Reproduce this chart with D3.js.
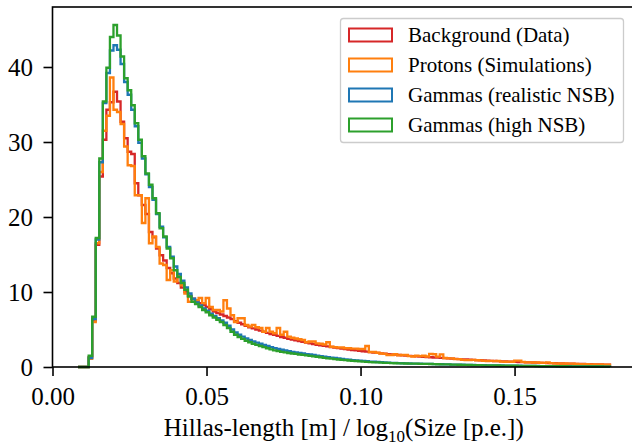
<!DOCTYPE html>
<html>
<head>
<meta charset="utf-8">
<script src="https://cdn.jsdelivr.net/npm/d3@7"></script>
<style>
  body { margin: 0; background: #fff; }
  svg { display: block; font-family: 'Liberation Serif', 'Times New Roman', serif; }
</style>
</head>
<body>
<svg></svg>
<script>
// histogram binning (150 equal bins)
const binStart = 0.00828;
const binEnd = 0.18098;
const binCount = 150;

const background = [
  0, 0, 0, 1.3, 6.2, 16.3, 25.4, 30.3, 34.3, 35.3,
  36.7, 35.4, 32.7, 30.5, 28.7, 28.4, 24.5, 22.9, 21.6, 20.4,
  18.0, 17.3, 15.8, 14.9, 14.2, 13.2, 12.5, 11.8, 11.2, 10.6,
  10.0, 9.5, 9.1, 8.8, 8.5, 8.3, 8.0, 7.7, 7.4, 7.2,
  7.0, 6.8, 6.6, 6.4, 6.1, 5.9, 5.7, 5.5, 5.3, 5.15,
  5.0, 4.85, 4.7, 4.55, 4.4, 4.3, 4.15, 4.0, 3.9, 3.75,
  3.65, 3.55, 3.45, 3.35, 3.25, 3.15, 3.05, 2.97, 2.9, 2.82,
  2.75, 2.67, 2.6, 2.53, 2.46, 2.4, 2.33, 2.27, 2.21, 2.15,
  2.1, 2.04, 1.98, 1.93, 1.88, 1.83, 1.78, 1.73, 1.68, 1.64,
  1.6, 1.56, 1.52, 1.48, 1.45, 1.42, 1.39, 1.36, 1.33, 1.3,
  1.27, 1.24, 1.21, 1.18, 1.15, 1.12, 1.09, 1.06, 1.03, 1.0,
  0.97, 0.95, 0.92, 0.9, 0.87, 0.85, 0.83, 0.8, 0.78, 0.76,
  0.74, 0.72, 0.7, 0.68, 0.66, 0.65, 0.63, 0.61, 0.6, 0.58,
  0.56, 0.55, 0.53, 0.52, 0.5, 0.49, 0.47, 0.46, 0.45, 0.44,
  0.42, 0.41, 0.4, 0.39, 0.37, 0.36, 0.35, 0.34, 0.33, 0.32
];

const protons = [
  0, 0, 0, 1.1, 6.0, 16.5, 26.0, 31.5, 33.5, 38.6,
  34.3, 34.0, 32.4, 29.4, 26.9, 26.8, 22.9, 22.9, 19.2, 22.5,
  16.5, 17.4, 16.0, 13.8, 13.6, 11.6, 12.9, 11.4, 12.3, 10.9,
  9.8, 8.7, 8.7, 8.9, 9.2, 8.5, 9.2, 8.0, 7.6, 7.6,
  7.4, 8.9, 7.8, 6.9, 6.0, 6.5, 6.5, 5.6, 5.4, 5.6,
  5.3, 5.2, 4.7, 5.2, 4.7, 4.5, 5.2, 4.3, 4.7, 4.05,
  3.9, 3.8, 3.7, 3.6, 3.3, 3.4, 3.4, 3.16, 3.1, 3.0,
  3.3, 2.7, 2.65, 2.6, 2.6, 2.5, 2.5, 2.45, 2.45, 2.4,
  2.4, 2.8, 2.0, 2.0, 1.9, 1.8, 1.75, 1.6, 1.6, 1.7,
  1.55, 1.6, 1.6, 1.45, 1.4, 1.5, 1.45, 1.5, 1.4, 1.75,
  1.7, 1.38, 1.69, 1.2, 1.15, 1.15, 1.05, 1.04, 0.95, 0.93,
  0.92, 0.95, 0.9, 0.88, 0.82, 0.8, 0.82, 0.78, 0.8, 0.72,
  0.7, 0.73, 0.7, 0.85, 0.84, 0.68, 0.63, 0.62, 0.6, 0.63,
  0.57, 0.55, 0.62, 0.52, 0.49, 0.47, 0.46, 0.47, 0.44, 0.44,
  0.4, 0.39, 0.38, 0.39, 0.36, 0.35, 0.33, 0.34, 0.32, 0.31
];

const gammasRealistic = [
  0, 0, 0, 1.2, 6.4, 17.0, 27.3, 35.2, 39.2, 42.2,
  42.9, 42.3, 40.4, 38.0, 36.3, 34.3, 32.1, 29.9, 27.8, 25.7,
  24.0, 22.3, 20.4, 18.7, 17.3, 16.0, 14.7, 13.4, 12.4, 11.5,
  10.6, 9.8, 9.1, 8.6, 8.2, 7.8, 7.5, 7.1, 6.8, 6.5,
  6.2, 5.9, 5.5, 5.0, 4.6, 4.3, 4.05, 3.8, 3.6, 3.4,
  3.25, 3.1, 2.95, 2.8, 2.66, 2.52, 2.4, 2.3, 2.2, 2.1,
  2.02, 1.95, 1.88, 1.8, 1.73, 1.67, 1.6, 1.53, 1.46, 1.39,
  1.32, 1.26, 1.2, 1.14, 1.08, 1.03, 0.98, 0.93, 0.89, 0.85,
  0.81, 0.77, 0.73, 0.7, 0.67, 0.64, 0.61, 0.58, 0.56, 0.54,
  0.52, 0.5, 0.49, 0.47, 0.46, 0.45, 0.44, 0.43, 0.42, 0.41,
  0.39, 0.38, 0.37, 0.36, 0.35, 0.33, 0.32, 0.31, 0.3, 0.29,
  0.28, 0.27, 0.26, 0.25, 0.24, 0.23, 0.22, 0.21, 0.21, 0.2,
  0.19, 0.19, 0.18, 0.17, 0.17, 0.16, 0.15, 0.15, 0.14, 0.14,
  0.13, 0.13, 0.12, 0.12, 0.11, 0.11, 0.1, 0.1, 0.1, 0.09,
  0.09, 0.09, 0.08, 0.08, 0.08, 0.07, 0.07, 0.07, 0.06, 0.06
];

const gammasHigh = [
  0, 0, 0, 1.5, 6.7, 17.2, 27.8, 35.4, 39.9, 44.0,
  45.6, 44.2, 41.4, 38.5, 36.9, 34.9, 32.5, 30.3, 28.1, 25.8,
  24.3, 22.5, 20.5, 18.5, 17.4, 15.8, 14.5, 12.9, 12.0, 11.2,
  10.3, 9.4, 8.7, 8.4, 8.0, 7.6, 7.3, 6.9, 6.6, 6.3,
  6.0, 5.6, 5.2, 4.7, 4.3, 4.0, 3.75, 3.5, 3.3, 3.1,
  2.95, 2.8, 2.66, 2.5, 2.36, 2.22, 2.13, 2.02, 1.95, 1.87,
  1.8, 1.74, 1.67, 1.61, 1.54, 1.49, 1.42, 1.37, 1.3, 1.23,
  1.16, 1.11, 1.05, 1.0, 0.96, 0.91, 0.87, 0.83, 0.8, 0.76,
  0.72, 0.69, 0.66, 0.63, 0.61, 0.58, 0.56, 0.54, 0.52, 0.5,
  0.49, 0.48, 0.47, 0.46, 0.45, 0.44, 0.43, 0.42, 0.41, 0.4,
  0.38, 0.37, 0.36, 0.35, 0.34, 0.32, 0.31, 0.3, 0.29, 0.28,
  0.27, 0.26, 0.25, 0.24, 0.23, 0.22, 0.21, 0.21, 0.2, 0.19,
  0.19, 0.18, 0.17, 0.17, 0.16, 0.15, 0.15, 0.14, 0.14, 0.13,
  0.13, 0.12, 0.12, 0.11, 0.11, 0.1, 0.1, 0.1, 0.09, 0.09,
  0.09, 0.08, 0.08, 0.08, 0.07, 0.07, 0.07, 0.07, 0.06, 0.06
];

const seriesNames = [
  'Background (Data)',
  'Protons (Simulations)',
  'Gammas (realistic NSB)',
  'Gammas (high NSB)'
];
const seriesColors = ['#d62728', '#ff7f0e', '#1f77b4', '#2ca02c'];
const xTicks = [0, 0.05, 0.1, 0.15];
const yTicks = [0, 10, 20, 30, 40];

const width = 632;
const height = 448;
const plotLeft = 52.5;
const plotRight = 635;
const plotTop = 7;
const plotBottom = 367;

const svg = d3.select('svg').attr('width', width).attr('height', height);

const xScale = d3.scaleLinear().domain([0, 0.1891]).range([plotLeft, plotRight]);
const yScale = d3.scaleLinear().domain([0, 48]).range([plotBottom, plotTop]);

const edges = d3.range(binCount + 1).map(
  (i) => binStart + (i * (binEnd - binStart)) / binCount
);

const stepPoints = (values) => {
  const pts = [[edges[0], 0]];
  values.forEach((v, i) => {
    pts.push([edges[i], v], [edges[i + 1], v]);
  });
  pts.push([edges[binCount], 0]);
  return pts;
};

const line = d3
  .line()
  .x((d) => xScale(d[0]))
  .y((d) => yScale(d[1]));

const allSeries = [background, protons, gammasRealistic, gammasHigh];

svg
  .append('g')
  .selectAll('path')
  .data(allSeries)
  .enter()
  .append('path')
  .attr('d', (d) => line(stepPoints(d)))
  .attr('fill', 'none')
  .attr('stroke', (d, i) => seriesColors[i])
  .attr('stroke-width', 2.3)
  .attr('stroke-linejoin', 'miter');

// axes
const xAxis = d3
  .axisBottom(xScale)
  .tickValues(xTicks)
  .tickFormat(d3.format('.2f'))
  .tickSize(9)
  .tickSizeOuter(0)
  .tickPadding(11);

const yAxis = d3
  .axisLeft(yScale)
  .tickValues(yTicks)
  .tickFormat(d3.format('d'))
  .tickSize(9)
  .tickSizeOuter(0)
  .tickPadding(10.5);

const gx = svg
  .append('g')
  .attr('transform', 'translate(0, ' + plotBottom + ')')
  .call(xAxis);

const gy = svg
  .append('g')
  .attr('transform', 'translate(' + plotLeft + ', 0)')
  .call(yAxis);

[gx, gy].forEach((g) => {
  g.attr('font-size', 25).attr('font-family', null);
  g.select('.domain').remove();
  g.selectAll('.tick line').attr('stroke', '#000').attr('stroke-width', 1.6);
  g.selectAll('.tick text').attr('fill', '#000');
});

// spines
svg
  .append('rect')
  .attr('x', plotLeft)
  .attr('y', plotTop)
  .attr('width', plotRight - plotLeft)
  .attr('height', plotBottom - plotTop)
  .attr('fill', 'none')
  .attr('stroke', '#000')
  .attr('stroke-width', 1.6);

// x label
const xLabel = svg
  .append('text')
  .attr('x', (plotLeft + plotRight) / 2)
  .attr('y', 436)
  .attr('text-anchor', 'middle')
  .attr('font-size', 25)
  .attr('fill', '#000');
xLabel.append('tspan').text('Hillas-length [m] / log');
xLabel.append('tspan').attr('font-size', 17).attr('dy', 6).text('10');
xLabel.append('tspan').attr('dy', -6).text('(Size [p.e.])');

// legend
const legend = svg.append('g');
legend
  .append('rect')
  .attr('x', 340.5)
  .attr('y', 18.5)
  .attr('width', 283)
  .attr('height', 124)
  .attr('rx', 3)
  .attr('fill', '#fff')
  .attr('fill-opacity', 0.8)
  .attr('stroke', '#cccccc')
  .attr('stroke-width', 1.3);

const rows = legend
  .selectAll('g.row')
  .data(seriesNames)
  .enter()
  .append('g')
  .attr('class', 'row')
  .attr('transform', (d, i) => 'translate(0, ' + (35 + i * 30) + ')');

rows
  .append('rect')
  .attr('x', 349)
  .attr('y', -6.5)
  .attr('width', 43)
  .attr('height', 13)
  .attr('fill', 'none')
  .attr('stroke', (d, i) => seriesColors[i])
  .attr('stroke-width', 2);

rows
  .append('text')
  .attr('x', 408)
  .attr('y', 7)
  .attr('font-size', 21)
  .attr('fill', '#000')
  .text((d) => d);
</script>
</body>
</html>
